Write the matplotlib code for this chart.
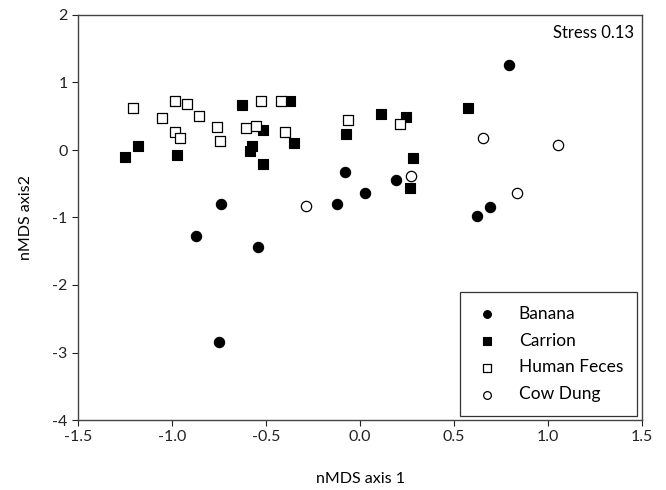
import matplotlib.pyplot as plt

plt.rcParams['font.family'] = ['Lato', 'DejaVu Sans']
plt.rcParams['axes.unicode_minus'] = False

# nMDS scores
banana_x = [0.79, -0.08, 0.025, 0.19, -0.12, -0.74, -0.87, -0.545, -0.75, 0.62, 0.69]
banana_y = [1.26, -0.33, -0.63, -0.45, -0.80, -0.80, -1.27, -1.43, -2.85, -0.98, -0.84]

carrion_x = [-1.248, -1.18, -0.973, -0.626, -0.576, -0.585, -0.515, -0.515,
             -0.372, -0.35, -0.073, 0.11, 0.247, 0.28, 0.268, 0.576]
carrion_y = [-0.10, 0.06, -0.07, 0.67, 0.064, -0.015, 0.29, -0.21,
             0.73, 0.11, 0.23, 0.54, 0.49, -0.12, -0.57, 0.62]

feces_x = [-1.205, -1.053, -0.982, -0.921, -0.982, -0.96, -0.858, -0.762,
           -0.746, -0.606, -0.554, -0.524, -0.418, -0.40, -0.064, 0.213]
feces_y = [0.62, 0.47, 0.73, 0.68, 0.27, 0.18, 0.50, 0.34,
           0.13, 0.33, 0.355, 0.72, 0.73, 0.27, 0.45, 0.39]

cow_x = [-0.286, 0.656, 1.055, 0.27, 0.835]
cow_y = [-0.83, 0.18, 0.07, -0.38, -0.63]

fig = plt.figure(figsize=(6.66, 4.90), dpi=100)
ax = fig.add_axes([78 / 666, 70 / 490, 564 / 666, 405 / 490])

ax.scatter(banana_x, banana_y, marker='o', s=55, facecolor='black',
           edgecolor='black', linewidth=0.8, label='Banana', zorder=3)
ax.scatter(carrion_x, carrion_y, marker='s', s=50, facecolor='black',
           edgecolor='black', linewidth=0.8, label='Carrion', zorder=3)
ax.scatter(feces_x, feces_y, marker='s', s=50, facecolor='white',
           edgecolor='black', linewidth=0.9, label='Human Feces', zorder=3)
ax.scatter(cow_x, cow_y, marker='o', s=55, facecolor='white',
           edgecolor='black', linewidth=0.9, label='Cow Dung', zorder=3)

ax.set_xlim(-1.5, 1.5)
ax.set_ylim(-4, 2)
ax.set_xticks([-1.5, -1.0, -0.5, 0.0, 0.5, 1.0, 1.5])
ax.set_xticklabels(['-1.5', '-1.0', '-0.5', '0.0', '0.5', '1.0', '1.5'])
ax.set_yticks([-4, -3, -2, -1, 0, 1, 2])
ax.tick_params(direction='out', length=4, width=0.8, labelsize=11.5, colors='#222222')

for sp in ax.spines.values():
    sp.set_linewidth(1.0)
    sp.set_color('#444444')

ax.set_xlabel('nMDS axis 1', fontsize=11.5, labelpad=20)
ax.set_ylabel('nMDS axis2', fontsize=11.5, labelpad=14)

ax.text(0.985, 0.975, 'Stress 0.13', transform=ax.transAxes, ha='right',
        va='top', fontsize=12)

leg = ax.legend(loc='lower right', bbox_to_anchor=(0.991, 0.01), fontsize=12.5,
                frameon=True, fancybox=False, edgecolor='black',
                borderpad=0.8, labelspacing=0.62, handletextpad=1.1,
                handlelength=1.5, borderaxespad=0.0, markerscale=0.75)
leg.get_frame().set_linewidth(0.9)
leg.set_zorder(5)

fig.savefig('out.png', dpi=100)
